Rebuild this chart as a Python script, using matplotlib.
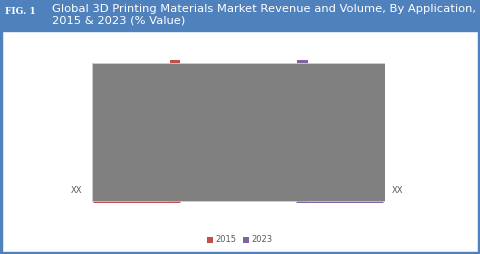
import matplotlib.pyplot as plt
from matplotlib.patches import Rectangle


# Chart data
TITLE = "Global 3D Printing Materials Market Revenue and Volume, By Application,\n2015 & 2023 (% Value)"
FIG_LABEL = "FIG. 1"
CATEGORIES = ["XX", "XX"]
YEARS = ["2015", "2023"]
VALUES = [100, 100]
LABEL_LEVEL = 8.4

# Styles
HEADER_BLUE = "#4f81bd"
SERIES_COLORS = ["#c0504d", "#8064a2"]
MASK_GREY = "#808080"
TEXT_GREY = "#595959"

W, H = 480, 254


def drawFrame(fig):
    head = 31
    fig.patches.append(Rectangle((0, 1 - head / H), 1, head / H,
                                 transform=fig.transFigure, color=HEADER_BLUE, zorder=0))
    # side and bottom borders
    fig.patches.append(Rectangle((0, 0), 2 / W, 1, transform=fig.transFigure,
                                 color=HEADER_BLUE, zorder=0))
    fig.patches.append(Rectangle((1 - 2 / W, 0), 2 / W, 1, transform=fig.transFigure,
                                 color=HEADER_BLUE, zorder=0))
    fig.patches.append(Rectangle((0, 0), 1, 2 / H, transform=fig.transFigure,
                                 color=HEADER_BLUE, zorder=0))
    fig.text(5 / W, 1 - 11 / H, FIG_LABEL, color="white", fontsize=6.5,
             fontweight="bold", va="center", ha="left", family="DejaVu Serif")
    fig.text(52 / W, 1 - 4 / H, TITLE, color="white", fontsize=8.25,
             va="top", ha="left", linespacing=1.2)


def main():
    fig = plt.figure(figsize=(W / 100, H / 100), dpi=100)
    drawFrame(fig)

    ax = fig.add_axes([92 / W, (H - 203) / H, 293 / W, 143 / H])
    ax.set_xlim(-0.219, 1.224)
    ax.set_ylim(0, 100)
    ax.axis("off")

    group_center = 0.504
    offsets = [-0.314, 0.314]
    widths = [0.049, 0.054]
    for i, (year, value) in enumerate(zip(YEARS, VALUES)):
        ax.bar(group_center + offsets[i], value, width=widths[i],
               color=SERIES_COLORS[i], label=year, zorder=1)
        ax.hlines(0.35, i - 0.213, i + 0.213, color=SERIES_COLORS[i],
                  linewidth=1.0, zorder=3)

    # grey placeholder block covering the plot
    ax.add_patch(Rectangle((0, 0.012), 1, 0.967, transform=ax.transAxes,
                           facecolor=MASK_GREY, edgecolor="#d0d0d0",
                           linewidth=0.6, zorder=2))

    trans = ax.get_yaxis_transform()
    ax.text(-10 / 293, LABEL_LEVEL, CATEGORIES[0], transform=trans,
            ha="right", va="center", fontsize=6, color=TEXT_GREY)
    ax.text(1 + 7 / 293, LABEL_LEVEL, CATEGORIES[1], transform=trans,
            ha="left", va="center", fontsize=6, color=TEXT_GREY)

    fig.legend(loc="center", bbox_to_anchor=(240 / W, 1 - 240 / H), ncol=2,
               frameon=False, fontsize=6, handlelength=0.7, handleheight=0.7,
               handletextpad=0.3, columnspacing=0.8, labelcolor=TEXT_GREY)

    fig.savefig("out.png", dpi=100)


main()
